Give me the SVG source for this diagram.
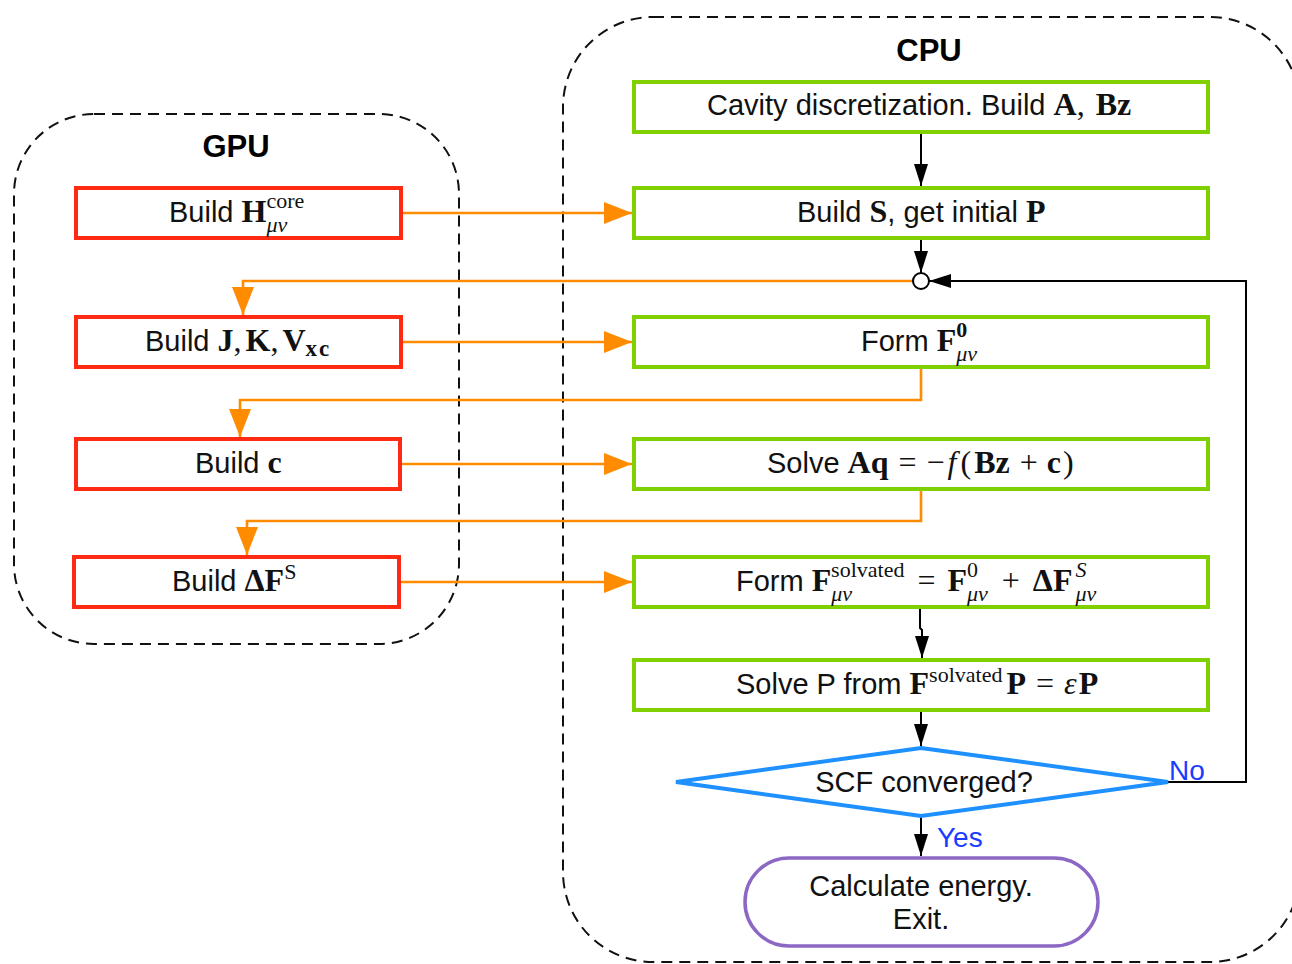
<svg xmlns="http://www.w3.org/2000/svg" width="1292" height="964" viewBox="0 0 1292 964">
<style>
.t{font-family:"Liberation Sans",Arial,sans-serif;font-size:29px;fill:#111}
.h{font-family:"Liberation Sans",Arial,sans-serif;font-size:31px;font-weight:bold;fill:#000;text-anchor:middle}
.b{font-family:"Liberation Serif","Times New Roman",serif;font-weight:bold;font-size:32px}
.r{font-family:"Liberation Serif","Times New Roman",serif;font-size:32px}
.i{font-family:"Liberation Serif","Times New Roman",serif;font-style:italic;font-size:32px}
.s{font-size:22px}
.gpu{fill:#fff;stroke:#ff2a12;stroke-width:4}
.cpu{fill:#fff;stroke:#80d000;stroke-width:4}
.box{fill:none;stroke:#111;stroke-width:2;stroke-dasharray:11 7}
.or{fill:none;stroke:#ff8c00;stroke-width:2.6}
.bk{fill:none;stroke:#000;stroke-width:2}
.lbl{font-family:"Liberation Sans",Arial,sans-serif;font-size:28px;fill:#1a3cff}
</style>
<defs>
<marker id="ao" markerUnits="userSpaceOnUse" markerWidth="28" markerHeight="22" refX="28" refY="11" orient="auto"><path d="M0,0 L28,11 L0,22 z" fill="#ff8c00"/></marker>
<marker id="ab" markerUnits="userSpaceOnUse" markerWidth="22" markerHeight="14" refX="22" refY="7" orient="auto"><path d="M0,0 L22,7 L0,14 z" fill="#000"/></marker>
</defs>
<rect width="1292" height="964" fill="#fff"/>
<g id="gpu-region">
<rect class="box" x="14" y="114" width="445" height="530" rx="80"/>
<text class="h" x="236" y="157">GPU</text>
</g>
<g id="cpu-region">
<rect class="box" x="563" y="17" width="737" height="945" rx="90"/>
<text class="h" x="929" y="61">CPU</text>
</g>
<g id="connectors">
<path class="or" d="M401,213 H632" marker-end="url(#ao)"/>
<path class="or" d="M913,281 H243 V315" marker-end="url(#ao)"/>
<path class="or" d="M401,342 H632" marker-end="url(#ao)"/>
<path class="or" d="M921,367 V400 H240 V437" marker-end="url(#ao)"/>
<path class="or" d="M400,464 H632" marker-end="url(#ao)"/>
<path class="or" d="M921,489 V521 H247 V555" marker-end="url(#ao)"/>
<path class="or" d="M399,582 H632" marker-end="url(#ao)"/>
<path class="bk" d="M921,132 V186" marker-end="url(#ab)"/>
<path class="bk" d="M921,238 V273" marker-end="url(#ab)"/>
<path class="bk" d="M1168,782 H1246 V281 H929" marker-end="url(#ab)"/>
<path class="bk" d="M920,607 V628 L922,630 V658" marker-end="url(#ab)"/>
<path class="bk" d="M921,710 V746" marker-end="url(#ab)"/>
<path class="bk" d="M921,816 V856" marker-end="url(#ab)"/>
<text class="lbl" x="1169" y="780">No</text>
<text class="lbl" x="937" y="847">Yes</text>
</g>
<g id="junction"><circle cx="921" cy="281" r="8" fill="#fff" stroke="#000" stroke-width="2"/></g>
<g id="build-h">
<rect class="gpu" x="76" y="188" width="325" height="50"/>
<text class="t" x="169" y="222">Build <tspan class="b">H</tspan><tspan class="r s" dy="-14">core</tspan><tspan class="i s" dx="-37.9" dy="24">μν</tspan></text>
</g>
<g id="build-jk">
<rect class="gpu" x="76" y="317" width="325" height="50"/>
<text class="t" x="145" y="351">Build <tspan class="b">J</tspan><tspan class="r">,</tspan><tspan class="b" dx="4">K</tspan><tspan class="r">,</tspan><tspan class="b" dx="4">V</tspan><tspan class="b" dy="5" style="font-size:23px;letter-spacing:2px">xc</tspan></text>
</g>
<g id="build-c">
<rect class="gpu" x="76" y="439" width="324" height="50"/>
<text class="t" x="195" y="473">Build <tspan class="b">c</tspan></text>
</g>
<g id="build-dfs">
<rect class="gpu" x="74" y="557" width="325" height="50"/>
<text class="t" x="172" y="591">Build <tspan class="b">ΔF</tspan><tspan class="r s" dy="-12">S</tspan></text>
</g>
<g id="cavity">
<rect class="cpu" x="634" y="82" width="574" height="50"/>
<text class="t" x="707" y="115">Cavity discretization. Build <tspan class="b">A</tspan><tspan class="r">,</tspan><tspan class="b" dx="11">Bz</tspan></text>
</g>
<g id="build-s">
<rect class="cpu" x="634" y="188" width="574" height="50"/>
<text class="t" x="797" y="222">Build <tspan class="b">S</tspan>, get initial <tspan class="b">P</tspan></text>
</g>
<g id="form-f0">
<rect class="cpu" x="634" y="317" width="574" height="50"/>
<text class="t" x="861" y="351">Form <tspan class="b">F</tspan><tspan class="b s" dy="-14">0</tspan><tspan class="i s" dx="-11" dy="24">μν</tspan></text>
</g>
<g id="solve-aq">
<rect class="cpu" x="634" y="439" width="574" height="50"/>
<text class="t" x="767" y="473">Solve <tspan class="b">Aq</tspan><tspan class="r" dx="10">=</tspan><tspan class="r" dx="10">−</tspan><tspan class="i" dx="3">f</tspan><tspan class="r" dx="4">(</tspan><tspan class="b" dx="3">Bz</tspan><tspan class="r" dx="10">+</tspan><tspan class="b" dx="9">c</tspan><tspan class="r" dx="2">)</tspan></text>
</g>
<g id="form-fsolv">
<rect class="cpu" x="634" y="557" width="574" height="50"/>
<text class="t" x="736" y="591">Form <tspan class="b">F</tspan><tspan class="i s" dy="10">μν</tspan><tspan class="r s" dx="-21" dy="-24">solvated</tspan><tspan class="r" dx="13" dy="14">=</tspan><tspan class="b" dx="12">F</tspan><tspan class="r s" dy="-14">0</tspan><tspan class="i s" dx="-11" dy="24">μν</tspan><tspan class="r" dx="14" dy="-10">+</tspan><tspan class="b" dx="13">ΔF</tspan><tspan class="i s" dx="3" dy="-14">S</tspan><tspan class="i s" dx="-11" dy="24">μν</tspan></text>
</g>
<g id="solve-p">
<rect class="cpu" x="634" y="660" width="574" height="50"/>
<text class="t" x="736" y="694">Solve P from <tspan class="b">F</tspan><tspan class="r s" dy="-12">solvated</tspan><tspan class="b" dx="4" dy="12">P</tspan><tspan class="r" dx="10">=</tspan><tspan class="i" dx="10">ε</tspan><tspan class="b" dx="2">P</tspan></text>
</g>
<g id="scf">
<polygon points="921,748 1168,782 921,816 676,782" fill="#fff" stroke="#1e90ff" stroke-width="4"/>
<text class="t" x="924" y="792" text-anchor="middle">SCF converged?</text>
</g>
<g id="energy">
<rect x="745" y="858" width="353" height="88" rx="44" fill="#fff" stroke="#8c68c4" stroke-width="3.5"/>
<text class="t" x="921" y="896" text-anchor="middle">Calculate energy.</text>
<text class="t" x="921" y="929" text-anchor="middle">Exit.</text>
</g>
</svg>
